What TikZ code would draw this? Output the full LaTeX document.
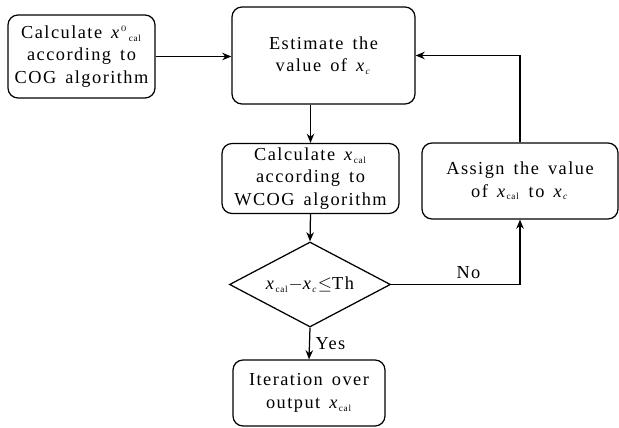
\documentclass[tikz,border=0pt]{standalone}
\usepackage{fontspec}
\setmainfont[LetterSpace=8,WordSpace=1.5]{Liberation Serif}
\usepackage{tikz}
\usetikzlibrary{positioning,shapes.geometric,arrows.meta}

\newcommand{\xv}[1]{\textit{x}\textsubscript{\fontsize{5.5}{6}\selectfont #1}}

\tikzset{
  procbox/.style={draw, rounded corners=6pt, align=center, inner sep=1pt, font=\fontsize{11}{13.4}\selectfont},
  testbox/.style={draw, diamond, aspect=1.9, inner sep=0pt, font=\fontsize{11}{13.4}\selectfont},
  flow/.style={-{Stealth[length=5.5pt,width=4.5pt]}, line width=0.75pt}
}

\begin{document}
\begin{tikzpicture}[x=0.6pt, y=-0.6pt, line width=0.75pt]
    \useasboundingbox (0,0) rectangle (619,428);
    \node[procbox, minimum width=88.2pt, minimum height=49.8pt] (cogcalc) at (81.5,56.5)
      {Calculate \textit{x}$^{\scriptscriptstyle 0}$\textsubscript{\fontsize{5.5}{6}\selectfont\,cal}\\according to\\COG algorithm};
    \node[procbox, minimum width=109.8pt, minimum height=58.2pt] (estimate) at (323.5,55.5)
      {Estimate the\\value of \xv{\textit{c}}};
    \node[procbox, minimum width=106.2pt, minimum height=42pt] (wcogcalc) at (310.5,178.5)
      {Calculate \xv{cal}\\according to\\WCOG algorithm};
    \node[procbox, minimum width=117.6pt, minimum height=45.6pt] (assign) at (520,181)
      {Assign the value\\of \xv{cal} to \xv{\textit{c}}};
    \node[testbox, minimum width=96.6pt, minimum height=51pt] (check) at (310,284.5)
      {\xv{cal}$-$\xv{\textit{c}}$\leq$Th};
    \node[procbox, minimum width=91.2pt, minimum height=39.6pt] (output) at (309,393)
      {Iteration over\\output \xv{cal}};

    \draw[flow] (cogcalc.east) -- (cogcalc.east -| estimate.west);
    \draw[flow] (wcogcalc.north |- estimate.south) -- (wcogcalc.north);
    \draw[flow] (wcogcalc.south) -- (check.north);
    \draw[flow] (check.east) -| node[pos=0.3, above, font=\fontsize{11}{13}\selectfont] (nolabel) {No} (assign.south);
    \draw[flow] (assign.north) |- (estimate.east);
    \draw[flow] (check.south) -- node[right, font=\fontsize{11}{13}\selectfont] (yeslabel) {Yes} (output.north);
  \end{tikzpicture}
\end{document}
